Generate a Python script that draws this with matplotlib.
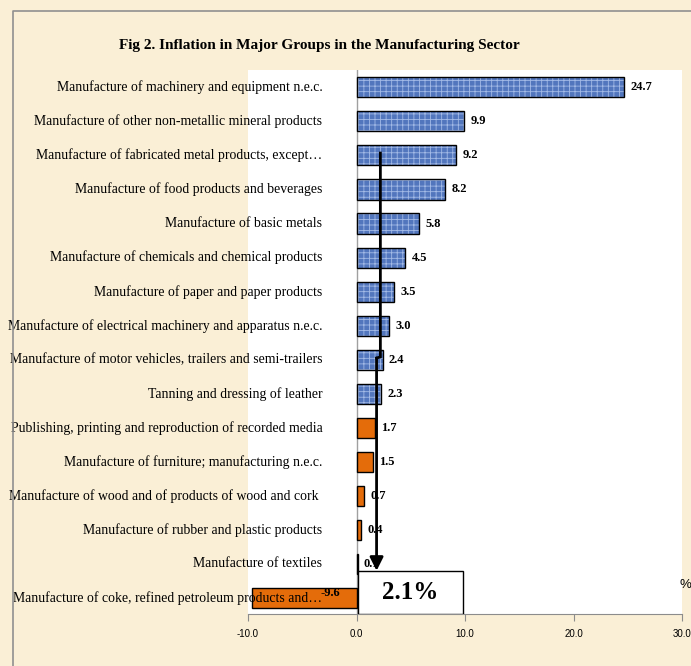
import matplotlib
matplotlib.use('Agg')
import matplotlib.pyplot as plt
from matplotlib.lines import Line2D
from matplotlib.patches import Rectangle
import numpy as np

categories = [
    "Manufacture of machinery and equipment n.e.c.",
    "Manufacture of other non-metallic mineral products",
    "Manufacture of fabricated metal products, except\u2026",
    "Manufacture of food products and beverages",
    "Manufacture of basic metals",
    "Manufacture of chemicals and chemical products",
    "Manufacture of paper and paper products",
    "Manufacture of electrical machinery and apparatus n.e.c.",
    "Manufacture of motor vehicles, trailers and semi-trailers",
    "Tanning and dressing of leather",
    "Publishing, printing and reproduction of recorded media",
    "Manufacture of furniture; manufacturing n.e.c.",
    "Manufacture of wood and of products of wood and cork ",
    "Manufacture of rubber and plastic products",
    "Manufacture of textiles",
    "Manufacture of coke, refined petroleum products and\u2026",
]
values = [24.7, 9.9, 9.2, 8.2, 5.8, 4.5, 3.5, 3.0, 2.4, 2.3, 1.7, 1.5, 0.7, 0.4, 0.1, -9.6]
value_labels = ["24.7", "9.9", "9.2", "8.2", "5.8", "4.5", "3.5", "3.0", "2.4", "2.3",
                "1.7", "1.5", "0.7", "0.4", "0.1", "-9.6"]
above_average = [True] * 10 + [False] * 6
average = 2.1
average_label = "2.1%"
xticks = [-10, 0, 10, 20, 30]
xtick_labels = ["-10.0", "0.0", "10.0", "20.0", "30.0"]
title = "Fig 2. Inflation in Major Groups in the Manufacturing Sector"

BG = '#faefd6'
BLUE = '#5276bd'
BLUE_PAT = '#a3bae6'
ORANGE = '#e46c0a'
GRAY = '#8c8c8c'
SERIF = ['Liberation Serif', 'DejaVu Serif']
SANS = ['Liberation Sans', 'DejaVu Sans']

W, H = 691, 666
fig = plt.figure(figsize=(W / 100, H / 100), dpi=100)
fig.patch.set_facecolor(BG)

# frame lines (left and top)
fig.add_artist(Line2D([12.5 / W, 12.5 / W, 1.0], [0.0, 1 - 10.5 / H, 1 - 10.5 / H],
                      color='#909090', lw=1.2, transform=fig.transFigure))

ax = fig.add_axes([248 / W, 1 - 614 / H, (682 - 248) / W, (614 - 70) / H])
ax.set_facecolor('white')

y = np.arange(len(categories))
vals = np.array(values)
cols = [BLUE if a else ORANGE for a in above_average]
bh = 0.59

ax.barh(y, vals, height=bh, color=cols, edgecolor='none', zorder=2)
blue_idx = [i for i, a in enumerate(above_average) if a]
plt.rcParams['hatch.linewidth'] = 0.6
ax.barh(y[blue_idx], vals[blue_idx], height=bh, facecolor='none', edgecolor=BLUE_PAT,
        hatch='+++', linewidth=0, zorder=2.1)
ax.barh(y, vals, height=bh, fill=False, edgecolor='black', linewidth=1.0, zorder=2.2)

ax.set_xlim(-10, 30)
ax.set_ylim(15.47, -0.51)
ax.axvline(0, color='#a0a0a0', lw=1, zorder=1.5)

for s in ['top', 'right', 'left']:
    ax.spines[s].set_visible(False)
ax.spines['bottom'].set_color(GRAY)
ax.set_yticks([])
ax.set_xticks(xticks)
ax.set_xticklabels(xtick_labels, family=SANS, fontsize=7)
ax.tick_params(axis='x', direction='out', length=5, color=GRAY, pad=6)

# category labels (drawn over plot area as in reference)
for i, c in enumerate(categories):
    ax.text(-3.15, i, c, ha='right', va='center', family=SERIF, fontsize=9.9,
            zorder=5, clip_on=False)

# value labels
for i, (v, lab) in enumerate(zip(values, value_labels)):
    if v >= 0:
        ax.annotate(lab, xy=(v, i), xytext=(4.5, 0), textcoords='offset points',
                    ha='left', va='center', family=SERIF, fontweight='bold',
                    fontsize=9, zorder=6)
    else:
        ax.text(-1.5, i - 0.15, lab, ha='right', va='center', family=SERIF,
                fontweight='bold', fontsize=9, zorder=6)

# average marker line with arrow
ax.plot([2.2, 2.2, 1.85], [1.93, 7.92, 7.95], color='black', lw=2, zorder=4,
        solid_joinstyle='miter')
ax.annotate('', xy=(1.85, 14.2), xytext=(1.85, 7.95),
            arrowprops=dict(arrowstyle='-|>,head_length=0.8,head_width=0.4',
                            lw=2, color='black', shrinkA=0, shrinkB=0), zorder=4)

box = Rectangle((0.15, 14.2), 9.65, 15.47 - 14.2, facecolor='white',
                edgecolor='black', lw=1.0, zorder=4.5)
ax.add_patch(box)
ax.text(4.97, 14.85, average_label, ha='center', va='center', family=SERIF,
        fontweight='bold', fontsize=18, zorder=6)

fig.text(685 / W, 1 - 585 / H, '%', ha='center', va='center', family=SANS,
         fontsize=9.5)

fig.text(319 / W, 1 - 46 / H, title, ha='center', va='center', family=SERIF,
         fontweight='bold', fontsize=11)

fig.savefig('out.png', dpi=100, facecolor=BG)
